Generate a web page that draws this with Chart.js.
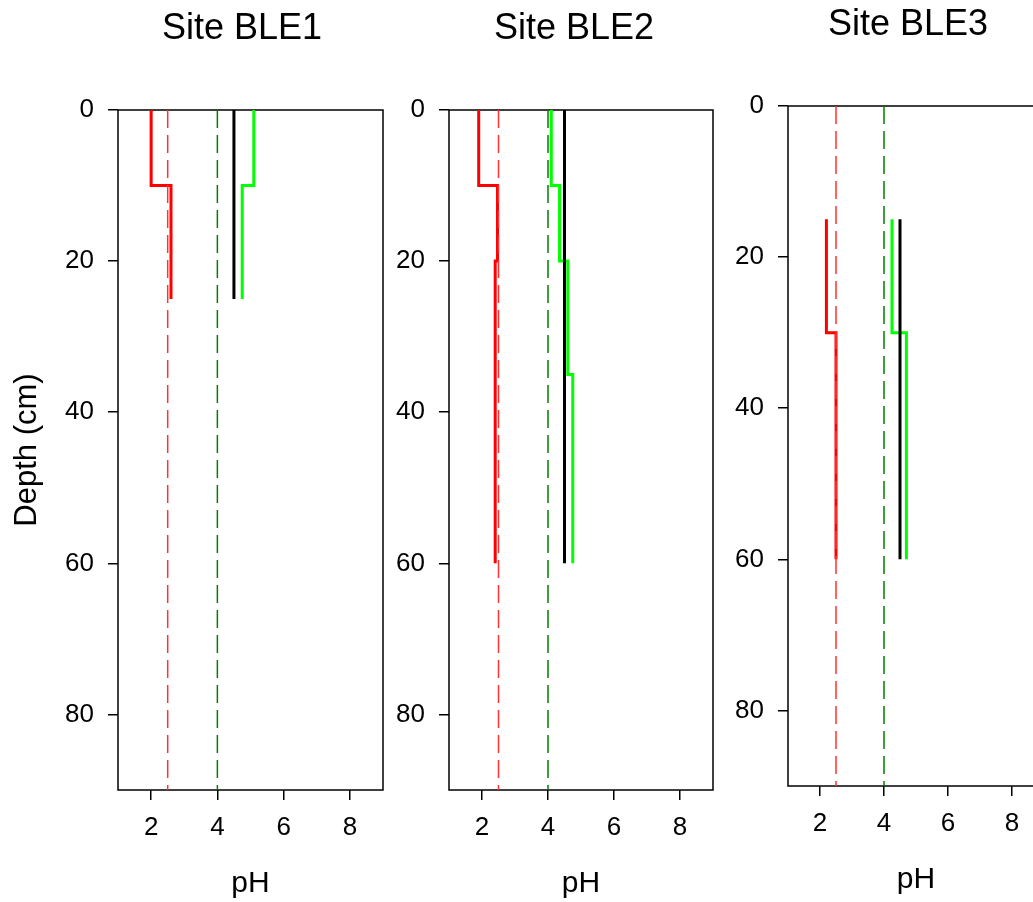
<!DOCTYPE html>
<html>
<head>
<meta charset="utf-8">
<script src="https://cdn.jsdelivr.net/npm/chart.js@4.4.0/dist/chart.umd.min.js"></script>
<style>
  html, body { margin: 0; padding: 0; background: #ffffff; overflow: hidden; width: 1033px; height: 902px; }
  canvas { position: absolute; }
</style>
</head>
<body>
<canvas id="ble1" width="484" height="902" style="left:0px;top:0px"></canvas>
<canvas id="ble2" width="486" height="902" style="left:331px;top:0px"></canvas>
<canvas id="ble3" width="476" height="902" style="left:670px;top:-4px"></canvas>
<script>
// Axis ticks and ranges
const pHTicks = [2, 4, 6, 8];
const depthTicks = [0, 20, 40, 60, 80];
const pHRange = [1, 9];
const depthRange = [0, 90];

// Reference pH lines (dashed), drawn over the full depth range
const refRedPH = 2.5;
const refGreenPH = 4.0;
const refDepths = [0, 90];

// Site BLE1: layer boundaries (cm) and pH per layer
const ble1Bounds = [0, 10, 25];
const ble1Red = [2.0, 2.6];
const ble1Black = [4.5, 4.5];
const ble1Green = [5.1, 4.75];

// Site BLE2
const ble2Bounds = [0, 10, 20, 35, 60];
const ble2Red = [1.9, 2.47, 2.4, 2.4];
const ble2Black = [4.5, 4.5, 4.5, 4.5];
const ble2Green = [4.1, 4.35, 4.6, 4.75];

// Site BLE3
const ble3Bounds = [15, 30, 60];
const ble3Red = [2.2, 2.5];
const ble3Black = [4.5, 4.5];
const ble3Green = [4.25, 4.7];

const FONT = "'Liberation Sans', Arial, Helvetica, sans-serif";

// Turn layer boundaries + values into a stepped depth profile
function profile(bounds, values) {
  const pts = [];
  values.forEach((v, i) => {
    pts.push({ x: v, y: bounds[i] });
    pts.push({ x: v, y: bounds[i + 1] });
  });
  return pts;
}

function refLine(ph) {
  return refDepths.map(d => ({ x: ph, y: d }));
}

const solid = (data, color) => ({
  data, borderColor: color, backgroundColor: color, borderWidth: 3,
  pointRadius: 0, showLine: true, fill: false, tension: 0,
  borderCapStyle: 'butt', borderJoinStyle: 'miter'
});
const dashed = (data, color) => ({
  data, borderColor: color, backgroundColor: color, borderWidth: 1.5,
  borderDash: [18, 7], pointRadius: 0, showLine: true, fill: false
});

// Box around the plotting area
const framePlugin = {
  id: 'frame',
  beforeDatasetsDraw(chart) {
    const { ctx, chartArea: a } = chart;
    ctx.save();
    ctx.strokeStyle = '#000';
    ctx.lineWidth = 1.5;
    ctx.strokeRect(a.left, a.top, a.right - a.left, a.bottom - a.top);
    ctx.restore();
  }
};

function makeChart(id, title, bounds, red, black, green, opts) {
  const ctx = document.getElementById(id).getContext('2d');
  return new Chart(ctx, {
    type: 'scatter',
    data: {
      datasets: [
        dashed(refLine(refRedPH), '#ff3333'),
        dashed(refLine(refGreenPH), '#008000'),
        solid(profile(bounds, red), '#ff0000'),
        solid(profile(bounds, black), '#000000'),
        solid(profile(bounds, green), '#00ff00')
      ]
    },
    options: {
      responsive: false,
      animation: false,
      events: [],
      layout: { padding: 0 },
      plugins: {
        legend: { display: false },
        tooltip: { enabled: false },
        title: {
          display: true, text: title, color: '#000',
          font: { family: FONT, size: 36, weight: 'normal', lineHeight: 1 },
          padding: { top: 11, bottom: 63 }
        }
      },
      scales: {
        x: {
          type: 'linear', position: 'bottom',
          min: pHRange[0], max: pHRange[1],
          afterBuildTicks: s => { s.ticks = pHTicks.map(v => ({ value: v })); },
          afterFit: s => { s.height = 112; },
          border: { display: false },
          grid: { drawOnChartArea: false, drawTicks: true, tickLength: 10, color: '#000', lineWidth: 1.5 },
          ticks: { color: '#000', padding: 12, maxRotation: 0, font: { family: FONT, size: 26 } },
          title: {
            display: true, text: 'pH', color: '#000',
            font: { family: FONT, size: 30, lineHeight: 1.2 },
            padding: { top: 0, bottom: 0 }
          }
        },
        y: {
          type: 'linear', position: 'left', reverse: true,
          min: depthRange[0], max: depthRange[1],
          afterBuildTicks: s => { s.ticks = depthTicks.map(v => ({ value: v })); },
          afterFit: s => { s.width = 118; },
          border: { display: false },
          grid: { drawOnChartArea: false, drawTicks: true, tickLength: 10, color: '#000', lineWidth: 1.5 },
          ticks: { color: '#000', padding: 14, font: { family: FONT, size: 26 } },
          title: {
            display: opts.showDepthTitle, text: 'Depth (cm)', color: '#000',
            font: { family: FONT, size: 31, lineHeight: 1 },
            padding: { top: 12, bottom: 0 }
          }
        },
        // blank spacer on the right so the title centres over the whole panel
        yR: {
          type: 'linear', position: 'right', display: true,
          min: depthRange[0], max: depthRange[1],
          afterFit: s => { s.width = opts.padRight; },
          border: { display: false },
          grid: { display: false, drawTicks: false },
          ticks: { display: false }
        }
      }
    },
    plugins: [framePlugin]
  });
}

makeChart('ble1', 'Site BLE1', ble1Bounds, ble1Red, ble1Black, ble1Green, { padRight: 101, showDepthTitle: true });
makeChart('ble2', 'Site BLE2', ble2Bounds, ble2Red, ble2Black, ble2Green, { padRight: 104, showDepthTitle: false });
makeChart('ble3', 'Site BLE3', ble3Bounds, ble3Red, ble3Black, ble3Green, { padRight: 102, showDepthTitle: false });
</script>
</body>
</html>
